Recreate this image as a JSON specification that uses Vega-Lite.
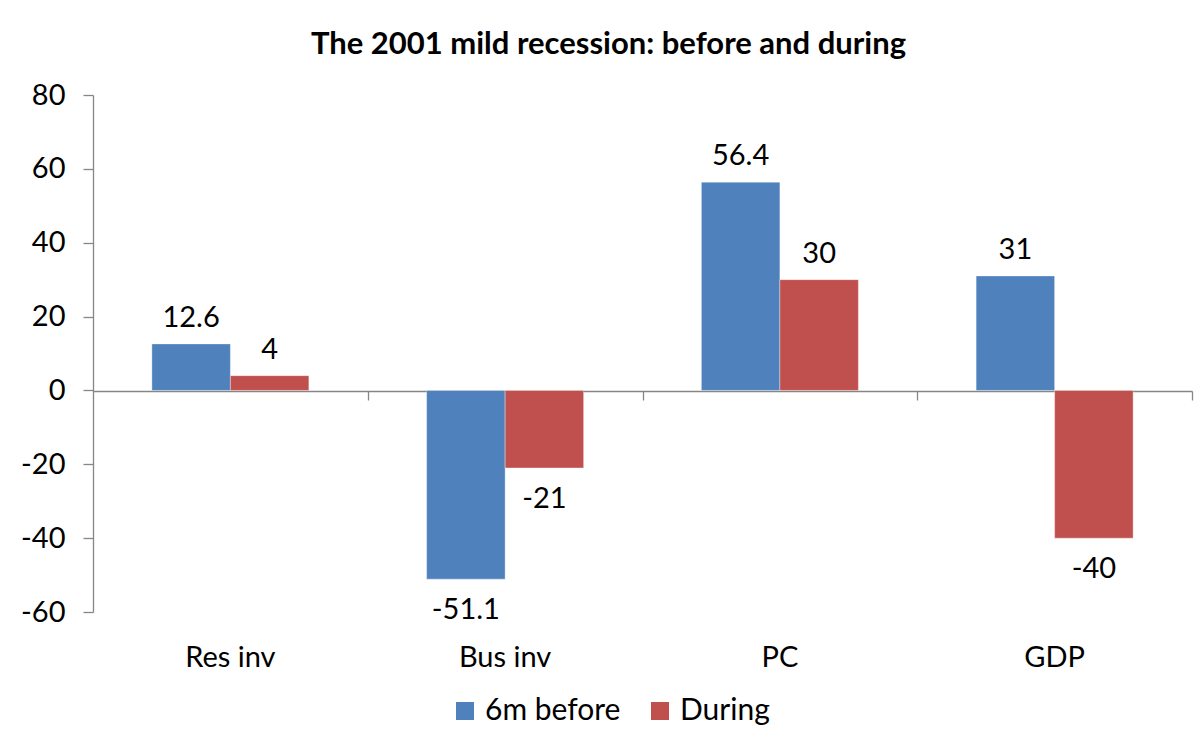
{
  "$schema": "https://vega.github.io/schema/vega-lite/v6.json",
  "width": 1099,
  "height": 517,
  "autosize": {"type": "none"},
  "padding": {"left": 93, "top": 95, "right": 11, "bottom": 128},
  "background": "white",
  "config": {
    "font": "Lato",
    "view": {"stroke": null},
    "axis": {"grid": false, "title": null, "labelFont": "Lato", "labelColor": "black", "domainColor": "#868686", "tickColor": "#868686", "domainWidth": 1.3, "tickWidth": 1.3}
  },
  "title": {
    "text": "The 2001 mild recession: before and during",
    "font": "Lato",
    "fontSize": 31,
    "fontWeight": "bold",
    "color": "black",
    "anchor": "middle",
    "frame": "group",
    "dx": -34,
    "offset": 20
  },
  "data": {
    "values": [
      {"category": "Res inv", "series": "6m before", "value": 12.6},
      {"category": "Res inv", "series": "During", "value": 4},
      {"category": "Bus inv", "series": "6m before", "value": -51.1},
      {"category": "Bus inv", "series": "During", "value": -21},
      {"category": "PC", "series": "6m before", "value": 56.4},
      {"category": "PC", "series": "During", "value": 30},
      {"category": "GDP", "series": "6m before", "value": 31},
      {"category": "GDP", "series": "During", "value": -40}
    ]
  },
  "encoding": {
    "xOffset": {"field": "series", "type": "nominal", "sort": ["6m before", "During"]},
    "y": {
      "field": "value",
      "type": "quantitative",
      "scale": {"domain": [-60, 80], "nice": false, "zero": false},
      "axis": {"values": [-60, -40, -20, 0, 20, 40, 60, 80], "labelExpr": "datum.value + ''", "labelFontSize": 29, "tickSize": 10, "labelPadding": 18, "domain": true, "ticks": true}
    }
  },
  "resolve": {"axis": {"x": "independent"}},
  "layer": [
    {
      "mark": {"type": "bar", "stroke": "white", "strokeWidth": 0.6, "strokeOpacity": 0.6},
      "encoding": {
        "x": {
          "field": "category",
          "type": "nominal",
          "sort": ["Res inv", "Bus inv", "PC", "GDP"],
          "scale": {"paddingInner": 0.4286, "paddingOuter": 0.2143},
          "axis": {"orient": "bottom", "domain": false, "ticks": false, "labelFontSize": 29, "labelPadding": 31, "labelAngle": 0}
        },
        "color": {
          "field": "series",
          "type": "nominal",
          "scale": {"domain": ["6m before", "During"], "range": ["#4F81BD", "#C0504D"]},
          "legend": {
            "title": null,
            "orient": "none",
            "legendX": 357,
            "legendY": 601,
            "direction": "horizontal",
            "symbolType": "square",
            "symbolSize": 324,
            "symbolStrokeWidth": 0,
            "labelFontSize": 30,
            "labelFont": "Lato",
            "labelColor": "black",
            "labelOffset": 5,
            "columnPadding": 24,
            "padding": 0
          }
        }
      }
    },
    {
      "transform": [{"filter": "datum.value >= 0"}],
      "mark": {"type": "text", "fontSize": 29, "font": "Lato", "color": "black", "baseline": "alphabetic", "dy": -17},
      "encoding": {
        "x": {
          "field": "category",
          "type": "nominal",
          "sort": ["Res inv", "Bus inv", "PC", "GDP"],
          "axis": {"orient": "bottom", "offset": -221, "labels": false, "domain": true, "ticks": true, "tickBand": "center", "tickOffset": 137.4, "tickSize": 9}
        },
        "text": {"field": "value", "type": "nominal"}
      }
    },
    {
      "transform": [{"filter": "datum.value < 0"}],
      "mark": {"type": "text", "fontSize": 29, "font": "Lato", "color": "black", "baseline": "alphabetic", "dy": 40},
      "encoding": {
        "x": {
          "field": "category",
          "type": "nominal",
          "sort": ["Res inv", "Bus inv", "PC", "GDP"],
          "axis": null
        },
        "text": {"field": "value", "type": "nominal"}
      }
    }
  ]
}
